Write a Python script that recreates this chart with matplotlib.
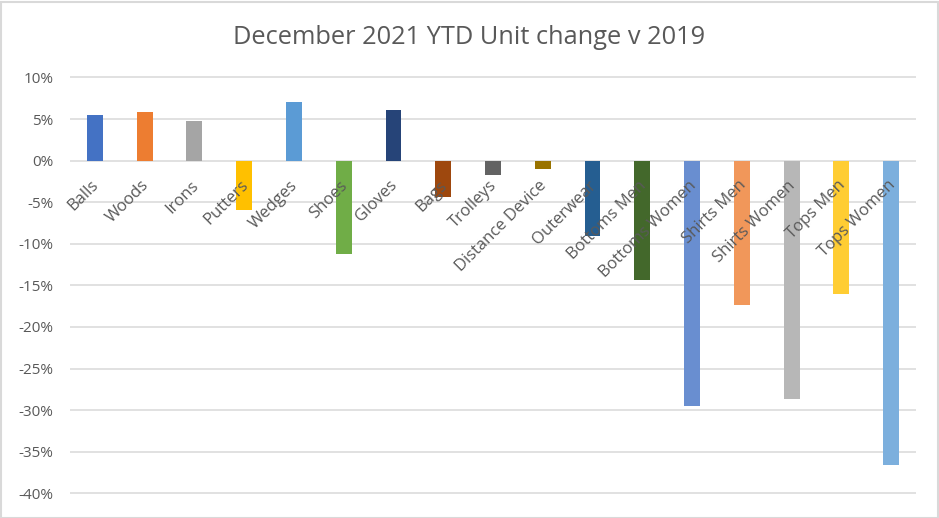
import numpy as np
import matplotlib.pyplot as plt
from matplotlib.patches import Rectangle
from matplotlib.ticker import FuncFormatter
from matplotlib.transforms import ScaledTranslation

categories = ['Balls', 'Woods', 'Irons', 'Putters', 'Wedges', 'Shoes', 'Gloves',
              'Bags', 'Trolleys', 'Distance Device', 'Outerwear', 'Bottoms Men',
              'Bottoms Women', 'Shirts Men', 'Shirts Women', 'Tops Men', 'Tops Women']
values = [5.5, 5.8, 4.8, -5.9, 7.0, -11.2, 6.1, -4.4, -1.7, -1.0, -9.1, -14.3,
          -29.5, -17.3, -28.7, -16.0, -36.6]
colors = ['#4472C4', '#ED7D31', '#A5A5A5', '#FFC000', '#5B9BD5', '#70AD47',
          '#264478', '#9E480E', '#636363', '#997300', '#255E91', '#43682B',
          '#698ED0', '#F1975A', '#B7B7B7', '#FFCD33', '#7CAFDD']
y_ticks = list(range(-40, 11, 5))

plt.rcParams['font.family'] = ['Open Sans', 'DejaVu Sans']

fig = plt.figure(figsize=(9.39, 5.18), dpi=100)
ax = fig.add_axes([70 / 939, 1 - 495.8 / 518, 846 / 939, (495.8 - 75) / 518])

# gridlines drawn by hand so the tick labels can sit on top of the bars
for yt in y_ticks:
    ax.axhline(yt, color='#D9D9D9', linewidth=1.1, zorder=0)

x = np.arange(len(categories))
ax.bar(x, values, width=0.32, color=colors, zorder=1)

ax.set_xlim(-0.5, len(categories) - 0.5)
ax.set_ylim(-40.3, 10.3)
ax.set_yticks(y_ticks)
ax.yaxis.set_major_formatter(FuncFormatter(lambda v, p: f'{int(v)}%'))
ax.tick_params(axis='y', length=0, labelsize=11, labelcolor='#595959', pad=12)

ax.spines['bottom'].set_position(('data', 0))
ax.spines['bottom'].set_visible(False)
for s in ['top', 'right', 'left']:
    ax.spines[s].set_visible(False)
ax.set_xticks(x)
ax.set_xticklabels(categories, rotation=45, ha='right', va='top',
                   rotation_mode='anchor')
ax.tick_params(axis='x', length=0, labelsize=12, labelcolor='#595959', pad=12)
shift = ScaledTranslation(-4 / 100, 0, fig.dpi_scale_trans)
for lbl in ax.get_xticklabels():
    lbl.set_transform(lbl.get_transform() + shift)

fig.text(0.5, 1 - 37 / 518, 'December 2021 YTD Unit change v 2019', ha='center',
         va='center', fontsize=18.3, color='#595959')

fig.patches.append(Rectangle((0.5 / 939, 0.5 / 518), 937 / 939, 516 / 518,
                             transform=fig.transFigure, fill=False,
                             edgecolor='#D9D9D9', linewidth=1.5))

fig.savefig('out.png', dpi=100)
